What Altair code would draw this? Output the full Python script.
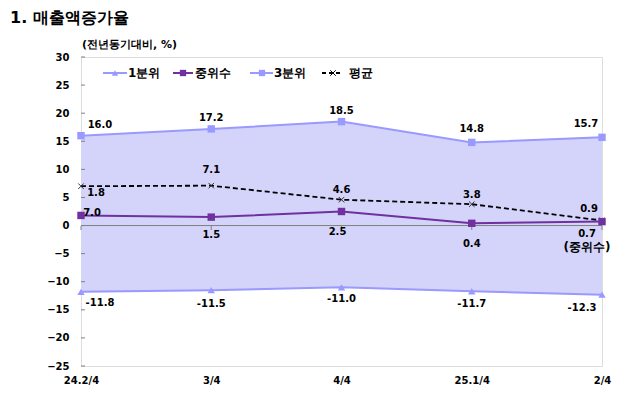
import altair as alt
import pandas as pd

cats = ["24.2/4", "3/4", "4/4", "25.1/4", "2/4"]
q1 = [-11.8, -11.5, -11.0, -11.7, -12.3]
med = [1.8, 1.5, 2.5, 0.4, 0.7]
q3 = [16.0, 17.2, 18.5, 14.8, 15.7]
avg = [7.0, 7.1, 4.6, 3.8, 0.9]

q1_text = ["-11.8", "-11.5", "-11.0", "-11.7", "-12.3"]
med_text = ["7.0", "1.5", "2.5", "0.4", "0.7"]
q3_text = ["16.0", "17.2", "18.5", "14.8", "15.7"]
avg_text = ["1.8", "7.1", "4.6", "3.8", "0.9"]
y_ticks = [-25, -20, -15, -10, -5, 0, 5, 10, 15, 20, 25, 30]

title_text = "1. 매출액증가율"
unit_text = "(전년동기대비, %)"
legend_names = ["1분위", "중위수", "3분위", "평균"]
median_note = "(중위수)"

# style offsets for labels (pixels)
q3_off = [(19, -11), (0, -11), (0, -11), (0, -13), (-16, -13)]
avg_off = [(15, 7), (0, -16), (0, -10), (0, -9), (-13, -11)]
med_off = [(11, -2), (0, 18), (-4, 20), (0, 21), (-15, 12)]
q1_off = [(19, 11), (0, 14), (0, 12), (0, 13), (-20, 13)]

C_Q = "#9999FF"
C_FILL = "#D4D4FA"
C_MED = "#7030A0"
C_AVG = "#000000"
FONT = "DejaVu Sans"
XSHAPE = "M-1,-1L1,1M-1,1L1,-1"

df = pd.DataFrame({"cat": cats, "q1": q1, "med": med, "q3": q3, "avg": avg})

W, H = 521, 309
xaxis = alt.Axis(title=None, labelFont=FONT, labelFontWeight="bold", labelFontSize=10,
                 labelColor="#000", labelAngle=0, labelPadding=9, ticks=False, domain=False,
                 labelOverlap=False)
yaxis = alt.Axis(title=None, values=y_ticks, labelFont=FONT, labelFontWeight="bold",
                 labelFontSize=10, labelColor="#000", ticks=False, domain=False,
                 grid=False, labelPadding=12, labelOverlap=False, labelBound=False)
xsc = alt.Scale(type="point", padding=0)
ysc = alt.Scale(domain=[-25, 30], nice=False, zero=False)


def X():
    return alt.X("cat:N", sort=cats, scale=xsc, axis=xaxis)


def Y(field):
    return alt.Y(f"{field}:Q", scale=ysc, axis=yaxis)


base = alt.Chart(df)
layers = []
layers.append(base.mark_area(color=C_FILL, opacity=1).encode(x=X(), y=Y("q3"), y2="q1:Q"))

# zero line and ticks
layers.append(alt.Chart(pd.DataFrame({"v": [0]})).mark_rule(color="#808080", strokeWidth=1)
              .encode(y=Y("v")))
layers.append(base.mark_rule(color="#808080").encode(x=X(), y=alt.value(226 - 57), y2=alt.value(226 - 57 + 4)))
tick_df = pd.DataFrame({"v": y_ticks})
layers.append(alt.Chart(tick_df).mark_rule(color="#808080").encode(
    y=Y("v"), x=alt.value(0), x2=alt.value(4)))

layers.append(base.mark_line(color=C_Q, strokeWidth=2).encode(x=X(), y=Y("q3")))
layers.append(base.mark_point(shape="square", filled=True, color=C_Q, size=55, opacity=1).encode(x=X(), y=Y("q3")))
layers.append(base.mark_line(color=C_Q, strokeWidth=2).encode(x=X(), y=Y("q1")))
layers.append(base.mark_point(shape="triangle-up", filled=True, color=C_Q, size=55, opacity=1).encode(x=X(), y=Y("q1")))
layers.append(base.mark_line(color=C_AVG, strokeWidth=1.8, strokeDash=[5, 3]).encode(x=X(), y=Y("avg")))
layers.append(base.mark_point(shape=XSHAPE, color="#333", size=30, strokeWidth=1, opacity=1).encode(x=X(), y=Y("avg")))
layers.append(base.mark_line(color=C_MED, strokeWidth=2).encode(x=X(), y=Y("med")))
layers.append(base.mark_point(shape="square", filled=True, color=C_MED, size=55, opacity=1).encode(x=X(), y=Y("med")))

# labels
for field, texts, offs in [("q3", q3_text, q3_off), ("avg", avg_text, avg_off),
                           ("med", med_text, med_off), ("q1", q1_text, q1_off)]:
    for i in range(len(cats)):
        sub = df.iloc[[i]].assign(lab=texts[i])
        layers.append(alt.Chart(sub).mark_text(font=FONT, fontWeight="bold", fontSize=10, color="#000",
                                               dx=offs[i][0], dy=offs[i][1])
                      .encode(x=X(), y=Y(field), text="lab:N"))
sub = df.iloc[[4]].assign(lab=median_note)
layers.append(alt.Chart(sub).mark_text(font=FONT, fontWeight="bold", fontSize=12, color="#000", dx=-15, dy=25)
              .encode(x=X(), y=Y("med"), text="lab:N"))

# legend (drawn manually)
one = pd.DataFrame({"a": [0]})
ly = 16
leg = [
    (legend_names[0], 22, 46, 34, "triangle-up", C_Q, True, None, 47),
    (legend_names[1], 92, 112, 102, "square", C_MED, True, None, 114),
    (legend_names[2], 169, 192, 181, "square", C_Q, True, None, 193),
    (legend_names[3], 241, 262, 252, XSHAPE, "#000", False, [4, 3], 268),
]
for name, x1, x2, xm, shp, col, filled, dash, xt in leg:
    rule_kwargs = dict(color=col, strokeWidth=2 if dash is None else 1.8)
    if dash is not None:
        rule_kwargs["strokeDash"] = dash
    layers.append(alt.Chart(one).mark_rule(**rule_kwargs).encode(
        x=alt.value(x1), x2=alt.value(x2), y=alt.value(ly)))
    if filled:
        layers.append(alt.Chart(one).mark_point(shape=shp, filled=True, color=col, size=40, opacity=1)
                      .encode(x=alt.value(xm), y=alt.value(ly)))
    else:
        layers.append(alt.Chart(one).mark_point(shape=shp, color=col, size=30, strokeWidth=1, opacity=1)
                      .encode(x=alt.value(xm), y=alt.value(ly)))
    layers.append(alt.Chart(one).mark_text(text=name, font=FONT, fontWeight="bold", fontSize=12,
                                           color="#000", align="left")
                  .encode(x=alt.value(xt), y=alt.value(ly)))

# titles
layers.append(alt.Chart(one).mark_text(text=title_text, font=FONT, fontWeight="bold", fontSize=16,
                                       color="#000", align="left", baseline="top")
              .encode(x=alt.value(-71), y=alt.value(-47)))
layers.append(alt.Chart(one).mark_text(text=unit_text, font=FONT, fontWeight="bold", fontSize=11,
                                       color="#000", align="left")
              .encode(x=alt.value(1), y=alt.value(-12)))

chart = alt.layer(*layers).properties(
    width=W, height=H,
    autosize=alt.AutoSizeParams(type="none"),
    padding={"left": 73, "top": 49, "right": 20, "bottom": 23},
).configure_view(stroke="#808080", strokeWidth=1).configure(background="white")

chart.save("out.html", embed_options={"renderer": "svg", "actions": False})
